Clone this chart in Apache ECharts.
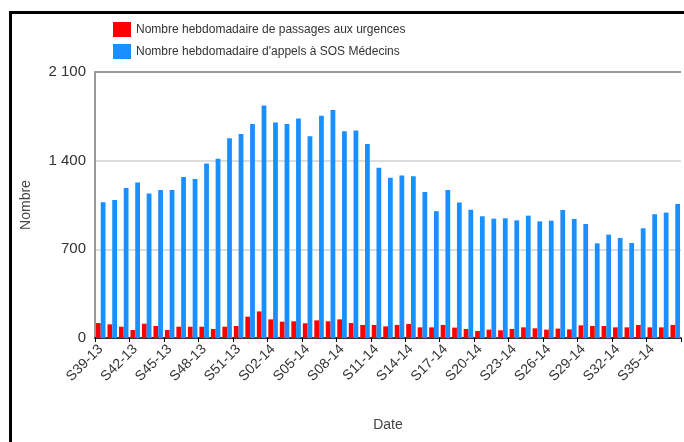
<!DOCTYPE html>
<html>
<head>
<meta charset="utf-8">
<title>Passages aux urgences / SOS Médecins</title>
<script src="https://cdn.jsdelivr.net/npm/echarts@6/dist/echarts.min.js"></script>
<style>
  html, body { margin: 0; padding: 0; background: #fff; }
  #main { width: 684px; height: 442px; }
</style>
</head>
<body>
<div id="main"></div>
<script>
// semaines S39-13 -> S37-14
const weeks = [
  'S39-13','S40-13','S41-13','S42-13','S43-13','S44-13','S45-13','S46-13','S47-13','S48-13',
  'S49-13','S50-13','S51-13','S52-13','S01-14','S02-14','S03-14','S04-14','S05-14','S06-14',
  'S07-14','S08-14','S09-14','S10-14','S11-14','S12-14','S13-14','S14-14','S15-14','S16-14',
  'S17-14','S18-14','S19-14','S20-14','S21-14','S22-14','S23-14','S24-14','S25-14','S26-14',
  'S27-14','S28-14','S29-14','S30-14','S31-14','S32-14','S33-14','S34-14','S35-14','S36-14',
  'S37-14'
];

// passages aux urgences (rouge)
const urgences = [
  118, 108, 89, 63, 113, 95, 63, 89, 89, 89,
  71, 89, 95, 168, 210, 147, 129, 132, 116, 139,
  132, 147, 118, 103, 103, 92, 103, 111, 84, 84,
  103, 82, 71, 55, 66, 61, 71, 84, 76, 66,
  74, 68, 100, 95, 95, 84, 84, 103, 84, 84,
  103
];

// appels SOS Médecins (bleu)
const sosMedecins = [
  1071, 1090, 1184, 1227, 1140, 1169, 1169, 1271, 1255, 1377,
  1416, 1577, 1611, 1689, 1836, 1702, 1690, 1732, 1593, 1755,
  1800, 1633, 1639, 1531, 1344, 1266, 1283, 1277, 1152, 1001,
  1168, 1069, 1013, 961, 942, 945, 929, 966, 921, 926,
  1011, 940, 900, 747, 816, 790, 750, 866, 977, 990,
  1058
];

const yTicks = [0, 700, 1400, 2100];

const font = "'Liberation Sans', Arial, sans-serif";
const fmt = v => String(v).replace(/\B(?=(\d{3})+(?!\d))/g, ' ');

const myChart = echarts.init(document.getElementById('main'));

const option = {
  animation: false,
  textStyle: { fontFamily: font },
  // cadre noir autour du graphique
  graphic: [{
    type: 'rect',
    left: 8, top: 10,
    shape: { width: 720, height: 480 },
    style: { fill: 'none', stroke: '#000', lineWidth: 3 },
    z: -1
  }],
  legend: {
    orient: 'vertical',
    left: 113,
    top: 22,
    padding: 0,
    itemWidth: 18,
    itemHeight: 15,
    itemGap: 7,
    icon: 'rect',
    textStyle: { fontSize: 12, color: '#333', fontFamily: font }
  },
  grid: {
    left: 95,
    right: 3,
    top: 72,
    bottom: 104
  },
  xAxis: {
    type: 'category',
    data: weeks,
    name: 'Date',
    nameLocation: 'middle',
    nameGap: 80,
    nameTextStyle: { fontSize: 14, color: '#444' },
    axisLine: { lineStyle: { color: '#000', width: 1.5 } },
    axisTick: { show: true, interval: 2, length: 4, lineStyle: { color: '#000' } },
    axisLabel: {
      interval: 2,
      rotate: 45,
      fontSize: 14,
      color: '#333',
      margin: 9
    }
  },
  yAxis: {
    type: 'value',
    min: yTicks[0],
    max: yTicks[yTicks.length - 1],
    interval: yTicks[1] - yTicks[0],
    name: 'Nombre',
    nameLocation: 'middle',
    nameGap: 62,
    nameTextStyle: { fontSize: 14, color: '#444' },
    axisLine: { show: true, lineStyle: { color: '#999', width: 2 } },
    axisTick: { show: false },
    axisLabel: {
      fontSize: 15,
      color: '#333',
      margin: 9,
      formatter: fmt
    },
    splitLine: {
      lineStyle: { color: ['#ddd', '#ddd', '#ddd', '#999'], width: 2 }
    }
  },
  series: [
    {
      name: 'Nombre hebdomadaire de passages aux urgences',
      type: 'bar',
      data: urgences,
      barGap: '0%',
      barCategoryGap: '17%',
      itemStyle: { color: '#ff0000' }
    },
    {
      name: "Nombre hebdomadaire d'appels à SOS Médecins",
      type: 'bar',
      data: sosMedecins,
      barGap: '0%',
      barCategoryGap: '17%',
      itemStyle: { color: '#1a8fff' }
    }
  ]
};

myChart.setOption(option);
</script>
</body>
</html>
